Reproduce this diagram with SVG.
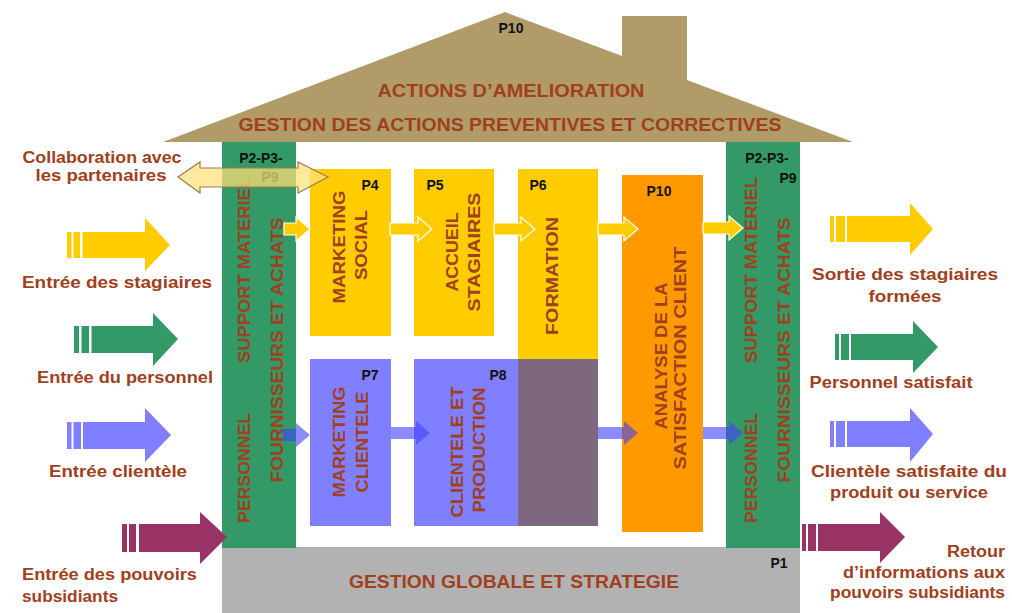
<svg xmlns="http://www.w3.org/2000/svg" width="1012" height="613" viewBox="0 0 1012 613">
  <defs>
    <style>
      .lbl { font-family: "Liberation Sans", Arial, sans-serif; font-weight: bold; fill: #a0401c; }
      .side { font-size: 16px; }
      .blk { font-size: 17px; text-anchor: middle; }
      .pid { font-family: "Liberation Sans", Arial, sans-serif; font-weight: bold; font-size: 14px; fill: #111; }
      .yel { fill: #ffcc00; }
      .grn { fill: #339966; }
      .blu { fill: #7f7fff; }
      .pur { fill: #993366; }
      .link-y { fill: #ffcc00; stroke: #ffffff; stroke-width: 1.2; }
      .link-b { fill: #4040ff; fill-opacity: 0.6; }
    </style>
  </defs>

  <rect width="1012" height="613" fill="#ffffff"/>

  <!-- Roof: improvement actions -->
  <g id="roof">
    <polygon points="163,142 505,12 622,56 622,16 687,16 687,80 853,142" fill="#b19c69"/>
    <text class="pid" x="511" y="33" text-anchor="middle">P10</text>
    <text class="lbl" x="511" y="97" font-size="19" text-anchor="middle" textLength="267" lengthAdjust="spacingAndGlyphs">ACTIONS D’AMELIORATION</text>
    <text class="lbl" x="510" y="131" font-size="19" text-anchor="middle" textLength="543" lengthAdjust="spacingAndGlyphs">GESTION DES ACTIONS PREVENTIVES ET CORRECTIVES</text>
  </g>

  <!-- Foundation: global management -->
  <g id="base">
    <rect x="222" y="547" width="578" height="66" fill="#b2b2b2"/>
    <text class="pid" x="779" y="568" text-anchor="middle">P1</text>
    <text class="lbl" x="514" y="588" font-size="18" text-anchor="middle" textLength="330" lengthAdjust="spacingAndGlyphs">GESTION GLOBALE ET STRATEGIE</text>
  </g>

  <!-- Left support pillar -->
  <g id="pillar-left">
    <rect class="grn" x="222" y="142" width="74" height="406"/>
    <text class="pid" x="261" y="163" text-anchor="middle">P2-P3-</text>
    <text class="pid" x="270" y="182" text-anchor="middle">P9</text>
    <text class="lbl blk" transform="translate(250,270) rotate(-90)" textLength="186" lengthAdjust="spacingAndGlyphs">SUPPORT MATERIEL</text>
    <text class="lbl blk" transform="translate(250,468) rotate(-90)" textLength="110" lengthAdjust="spacingAndGlyphs">PERSONNEL</text>
    <text class="lbl blk" transform="translate(283,350) rotate(-90)" textLength="265" lengthAdjust="spacingAndGlyphs">FOURNISSEURS ET ACHATS</text>
  </g>

  <!-- Right support pillar -->
  <g id="pillar-right">
    <rect class="grn" x="726" y="142" width="74" height="406"/>
    <text class="pid" x="767" y="163" text-anchor="middle">P2-P3-</text>
    <text class="pid" x="788" y="183" text-anchor="middle">P9</text>
    <text class="lbl blk" transform="translate(757,270) rotate(-90)" textLength="186" lengthAdjust="spacingAndGlyphs">SUPPORT MATERIEL</text>
    <text class="lbl blk" transform="translate(757,468) rotate(-90)" textLength="110" lengthAdjust="spacingAndGlyphs">PERSONNEL</text>
    <text class="lbl blk" transform="translate(790,350) rotate(-90)" textLength="265" lengthAdjust="spacingAndGlyphs">FOURNISSEURS ET ACHATS</text>
  </g>

  <!-- Process blocks -->
  <g id="p4">
    <rect class="yel" x="310" y="169" width="81" height="167"/>
    <text class="pid" x="370" y="190" text-anchor="middle">P4</text>
    <text class="lbl blk" transform="translate(345,247) rotate(-90)" textLength="113" lengthAdjust="spacingAndGlyphs">MARKETING</text>
    <text class="lbl blk" transform="translate(367,245) rotate(-90)" textLength="70" lengthAdjust="spacingAndGlyphs">SOCIAL</text>
  </g>

  <g id="p5">
    <rect class="yel" x="414" y="169" width="80" height="167"/>
    <text class="pid" x="435" y="190" text-anchor="middle">P5</text>
    <text class="lbl blk" transform="translate(458,252) rotate(-90)" textLength="79" lengthAdjust="spacingAndGlyphs">ACCUEIL</text>
    <text class="lbl blk" transform="translate(480,252) rotate(-90)" textLength="119" lengthAdjust="spacingAndGlyphs">STAGIAIRES</text>
  </g>

  <g id="p6">
    <rect class="yel" x="518" y="169" width="80" height="190"/>
    <rect x="518" y="359" width="80" height="167" fill="#7e6880"/>
    <text class="pid" x="538" y="190" text-anchor="middle">P6</text>
    <text class="lbl blk" transform="translate(558,276) rotate(-90)" textLength="118" lengthAdjust="spacingAndGlyphs">FORMATION</text>
  </g>

  <g id="p10">
    <rect x="622" y="175" width="81" height="357" fill="#ff9900"/>
    <text class="pid" x="659" y="196" text-anchor="middle">P10</text>
    <text class="lbl blk" transform="translate(667,356) rotate(-90)" textLength="147" lengthAdjust="spacingAndGlyphs">ANALYSE DE LA</text>
    <text class="lbl blk" transform="translate(686,358) rotate(-90)" textLength="223" lengthAdjust="spacingAndGlyphs">SATISFACTION CLIENT</text>
  </g>

  <g id="p7">
    <rect class="blu" x="310" y="359" width="81" height="167"/>
    <text class="pid" x="370" y="380" text-anchor="middle">P7</text>
    <text class="lbl blk" transform="translate(345,442) rotate(-90)" textLength="111" lengthAdjust="spacingAndGlyphs">MARKETING</text>
    <text class="lbl blk" transform="translate(368,442) rotate(-90)" textLength="101" lengthAdjust="spacingAndGlyphs">CLIENTELE</text>
  </g>

  <g id="p8">
    <rect class="blu" x="414" y="359" width="104" height="167"/>
    <text class="pid" x="498" y="380" text-anchor="middle">P8</text>
    <text class="lbl blk" transform="translate(463,452) rotate(-90)" textLength="131" lengthAdjust="spacingAndGlyphs">CLIENTELE ET</text>
    <text class="lbl blk" transform="translate(485,450) rotate(-90)" textLength="125" lengthAdjust="spacingAndGlyphs">PRODUCTION</text>
  </g>

  <!-- Flows between blocks -->
  <g id="connectors">
    <polygon class="link-y" points="284,223 296,223 296,217 310,229 296,241 296,235 284,235"/>
    <polygon class="link-y" points="390,223 418,223 418,217 432,229 418,241 418,235 390,235"/>
    <polygon class="link-y" points="494,223 521,223 521,217 535,229 521,241 521,235 494,235"/>
    <polygon class="link-y" points="598,223 624,223 624,217 638,229 624,241 624,235 598,235"/>
    <polygon class="link-y" points="703,222 729,222 729,216 743,228 729,240 729,234 703,234"/>

    <polygon class="link-b" points="283,429 296,429 296,423 310,435 296,447 296,441 283,441"/>
    <polygon class="link-b" points="391,427 416,427 416,421 430,433 416,445 416,439 391,439"/>
    <polygon class="link-b" points="598,427 624,427 624,421 638,433 624,445 624,439 598,439"/>
    <polygon class="link-b" points="703,427 729,427 729,421 743,433 729,445 729,439 703,439"/>

    <!-- partner collaboration, two-way -->
    <polygon points="178,177 200,162 200,168 298,168 298,162 328,177 298,193 298,187 200,187 200,193" fill="#ffe07a" fill-opacity="0.72" stroke="#a07a48" stroke-width="1.2"/>
  </g>

  <!-- Inputs -->
  <g id="in-stagiaires">
    <rect class="yel" x="67" y="232" width="4.5" height="26"/>
    <rect class="yel" x="73.5" y="232" width="6.5" height="26"/>
    <polygon class="yel" points="82.5,232 145,232 145,218 170,245 145,271 145,258 82.5,258"/>
    <text class="lbl side" x="117" y="288" text-anchor="middle" textLength="190" lengthAdjust="spacingAndGlyphs">Entrée des stagiaires</text>
  </g>

  <g id="in-personnel">
    <rect class="grn" x="74" y="326" width="5" height="27"/>
    <rect class="grn" x="81.5" y="326" width="7.5" height="27"/>
    <polygon class="grn" points="91.5,326 153,326 153,313 178,339 153,366 153,353 91.5,353"/>
    <text class="lbl side" x="125" y="383" text-anchor="middle" textLength="176" lengthAdjust="spacingAndGlyphs">Entrée du personnel</text>
  </g>

  <g id="in-clientele">
    <rect class="blu" x="67" y="422" width="4.5" height="27"/>
    <rect class="blu" x="73.5" y="422" width="7.5" height="27"/>
    <polygon class="blu" points="83,422 145,422 145,408 171,435 145,462 145,449 83,449"/>
    <text class="lbl side" x="118" y="477" text-anchor="middle" textLength="138" lengthAdjust="spacingAndGlyphs">Entrée clientèle</text>
  </g>

  <g id="in-pouvoirs">
    <rect class="pur" x="122" y="524" width="5" height="28"/>
    <rect class="pur" x="129" y="524" width="7" height="28"/>
    <polygon class="pur" points="139,524 200,524 200,512 227,537 200,564 200,552 139,552"/>
    <text class="lbl side" x="22" y="580" textLength="175" lengthAdjust="spacingAndGlyphs">Entrée des pouvoirs</text>
    <text class="lbl side" x="22" y="602" textLength="96" lengthAdjust="spacingAndGlyphs">subsidiants</text>
  </g>

  <g id="partenaires">
    <text class="lbl side" x="102" y="163" text-anchor="middle" textLength="159" lengthAdjust="spacingAndGlyphs">Collaboration avec</text>
    <text class="lbl side" x="101" y="181" text-anchor="middle" textLength="131" lengthAdjust="spacingAndGlyphs">les partenaires</text>
  </g>

  <!-- Outputs -->
  <g id="out-stagiaires">
    <rect class="yel" x="830" y="216" width="4" height="26"/>
    <rect class="yel" x="836" y="216" width="9" height="26"/>
    <polygon class="yel" points="847,216 910,216 910,203 933,229 910,255 910,242 847,242"/>
    <text class="lbl side" x="905" y="280" text-anchor="middle" textLength="186" lengthAdjust="spacingAndGlyphs">Sortie des stagiaires</text>
    <text class="lbl side" x="905" y="302" text-anchor="middle" textLength="73" lengthAdjust="spacingAndGlyphs">formées</text>
  </g>

  <g id="out-personnel">
    <rect class="grn" x="835" y="334" width="4" height="26"/>
    <rect class="grn" x="841" y="334" width="8" height="26"/>
    <polygon class="grn" points="851,334 913,334 913,321 938,347 913,373 913,360 851,360"/>
    <text class="lbl side" x="891" y="388" text-anchor="middle" textLength="163" lengthAdjust="spacingAndGlyphs">Personnel satisfait</text>
  </g>

  <g id="out-clientele">
    <rect class="blu" x="830" y="421" width="4" height="26"/>
    <rect class="blu" x="836" y="421" width="9" height="26"/>
    <polygon class="blu" points="847,421 910,421 910,408 933,434 910,462 910,447 847,447"/>
    <text class="lbl side" x="909" y="477" text-anchor="middle" textLength="196" lengthAdjust="spacingAndGlyphs">Clientèle satisfaite du</text>
    <text class="lbl side" x="909" y="498" text-anchor="middle" textLength="158" lengthAdjust="spacingAndGlyphs">produit ou service</text>
  </g>

  <g id="out-pouvoirs">
    <rect class="pur" x="802" y="524" width="4" height="27"/>
    <rect class="pur" x="808" y="524" width="8" height="27"/>
    <polygon class="pur" points="818,524 880,524 880,512 905,537 880,563 880,551 818,551"/>
    <text class="lbl side" x="1005" y="557" text-anchor="end" textLength="58" lengthAdjust="spacingAndGlyphs">Retour</text>
    <text class="lbl side" x="1005" y="578" text-anchor="end" textLength="162" lengthAdjust="spacingAndGlyphs">d’informations aux</text>
    <text class="lbl side" x="1005" y="598" text-anchor="end" textLength="175" lengthAdjust="spacingAndGlyphs">pouvoirs subsidiants</text>
  </g>
</svg>
